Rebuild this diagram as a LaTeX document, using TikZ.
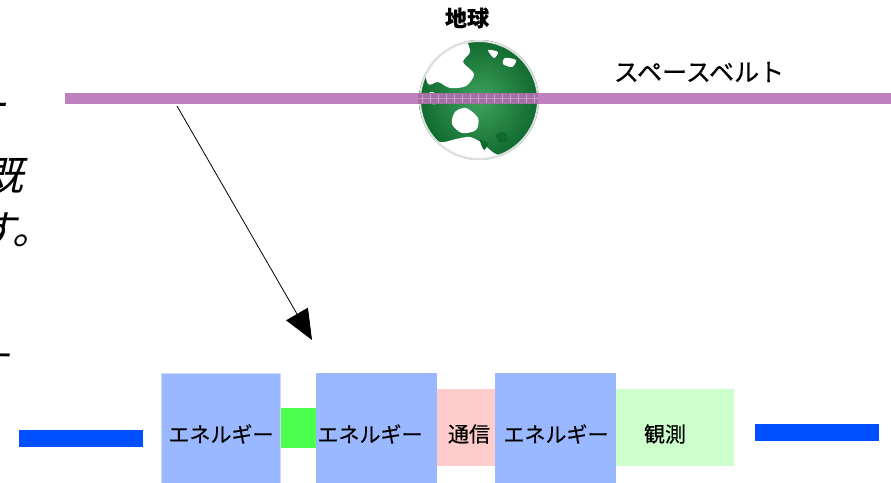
\documentclass[tikz,border=0pt]{standalone}
\usepackage{fontspec}
\newfontfamily\jp[FakeBold=0.4]{Noto Sans CJK JP}
\newfontfamily\jpit[FakeSlant=0.22]{Noto Sans CJK JP}
\usetikzlibrary{arrows.meta,calc}

\definecolor{beltpurple}{HTML}{C080C0}
\definecolor{energyblue}{HTML}{99B8FF}
\definecolor{energyedge}{HTML}{C8D8FF}
\definecolor{linkgreen}{HTML}{4CFF4C}
\definecolor{commpink}{HTML}{FFCCCC}
\definecolor{obsgreen}{HTML}{CCFFCC}
\definecolor{railblue}{HTML}{0050FF}
\definecolor{earthdark}{HTML}{0F6A2E}
\definecolor{earthlight}{HTML}{3FA35E}

\tikzset{
  blk/.style={rectangle, draw=none, inner sep=0pt, outer sep=0pt},
  energy/.style={blk, fill=energyblue},
  lbl/.style={inner sep=0pt, font=\jp\fontsize{21}{21}\selectfont},
  frag/.style={inner sep=0pt, font=\jpit\fontsize{40}{40}\selectfont},
}

\begin{document}
\begin{tikzpicture}[x=1pt,y=-1pt]
\useasboundingbox (0,0) rectangle (891,482);
\fill[white] (0,0) rectangle (891,482);

% cut-off italic text at the left margin
\begin{scope}
  \clip (0,0) rectangle (40,482);
  \node[frag, anchor=east] (fa) at (5,112) {一};
  \node[frag, anchor=base east] (fb) at (24,190) {既};
  \node[frag, anchor=base west] (fc) at (-24,244) {す。};
  \node[frag, anchor=base east] (fd) at (8,380) {す};
\end{scope}

% the Earth
\coordinate (earth) at (479,100);
\begin{scope}
  \clip (earth) circle[radius=60];
  \shade[inner color=earthlight, outer color=earthdark] (earth) circle[radius=60];
  \fill[white] plot[smooth cycle] coordinates {(424,62) (432,48) (448,40) (465,40) (470,52) (463,62) (474,74) (466,86) (450,88) (438,82) (428,84)};
  \fill[white] plot[smooth cycle] coordinates {(455,112) (466,108) (478,118) (476,130) (462,133) (452,124)};
  \fill[white] plot[smooth cycle] coordinates {(418,132) (440,142) (456,139) (470,137) (482,143) (494,153) (506,156) (522,150) (515,170) (470,172) (430,165)};
  \fill[white] plot[smooth cycle] coordinates {(418,40) (445,38) (425,60) (418,75)};
  \fill[white] plot[smooth cycle] coordinates {(505,58) (516,60) (512,67) (503,64)};
  \fill[white] plot[smooth cycle] coordinates {(488,50) (498,52) (494,58)};
  \fill[white] plot[smooth cycle] coordinates {(430,92) (440,96) (436,104) (428,102)};
  \fill[earthdark] plot[smooth cycle] coordinates {(496,135) (504,132) (508,140) (500,143)};
  \fill[earthdark] plot[smooth cycle] coordinates {(480,140) (488,143) (484,150)};
\end{scope}
\draw[black!12, line width=2pt] (earth) circle[radius=59];
\node[inner sep=0pt, font=\jp\fontsize{22}{22}\selectfont\bfseries] (earthname) at (467,18) {地球};

% space belt
\fill[beltpurple] (65,93) rectangle (891,104);
\fill[beltpurple!70!black, opacity=0.45] (418,93) rectangle (538,104);
\foreach \t in {422,430,...,534}
  \draw[white, opacity=0.35, line width=0.8pt] (\t,94) -- (\t,103);
\draw[white, opacity=0.3, line width=0.6pt] (418,98.5) -- (538,98.5);
\node[inner sep=0pt, font=\jp\fontsize{25}{25}\selectfont] (beltname) at (699,72) {スペースベルト};

% arrow from the belt down to the chain
\coordinate (tap) at (177,106);
\coordinate (tip) at (312,340);
\draw[line width=0.8pt, -{Triangle[length=30pt,width=25pt]}] (tap) -- (tip);

% chain of modules
\node[blk, fill=railblue, minimum width=124pt, minimum height=17pt] (railL) at (81,438.5) {};
\node[energy, draw=energyedge, line width=1pt, minimum width=119pt, minimum height=120pt] (e1) at (220.5,433.5) {};
\node[blk, fill=linkgreen, minimum width=35pt, minimum height=40pt] (link) at (298.5,428) {};
\node[energy, minimum width=121pt, minimum height=120pt] (e2) at (376.5,433) {};
\node[blk, fill=commpink, minimum width=58pt, minimum height=77pt] (comm) at (466,427.5) {};
\node[energy, minimum width=121pt, minimum height=120pt] (e3) at (555.5,433) {};
\node[blk, fill=obsgreen, minimum width=118pt, minimum height=77pt] (obs) at (675,427.5) {};
\node[blk, fill=railblue, minimum width=124pt, minimum height=17pt] (railR) at (817,432.5) {};

\node[lbl] (t1) at (221,434) {エネルギー};
\node[lbl] (t2) at (370,434) {エネルギー};
\node[lbl] (t3) at (469,434) {通信};
\node[lbl] (t4) at (556,434) {エネルギー};
\node[lbl] (t5) at (665,434) {観測};
\end{tikzpicture}
\end{document}
